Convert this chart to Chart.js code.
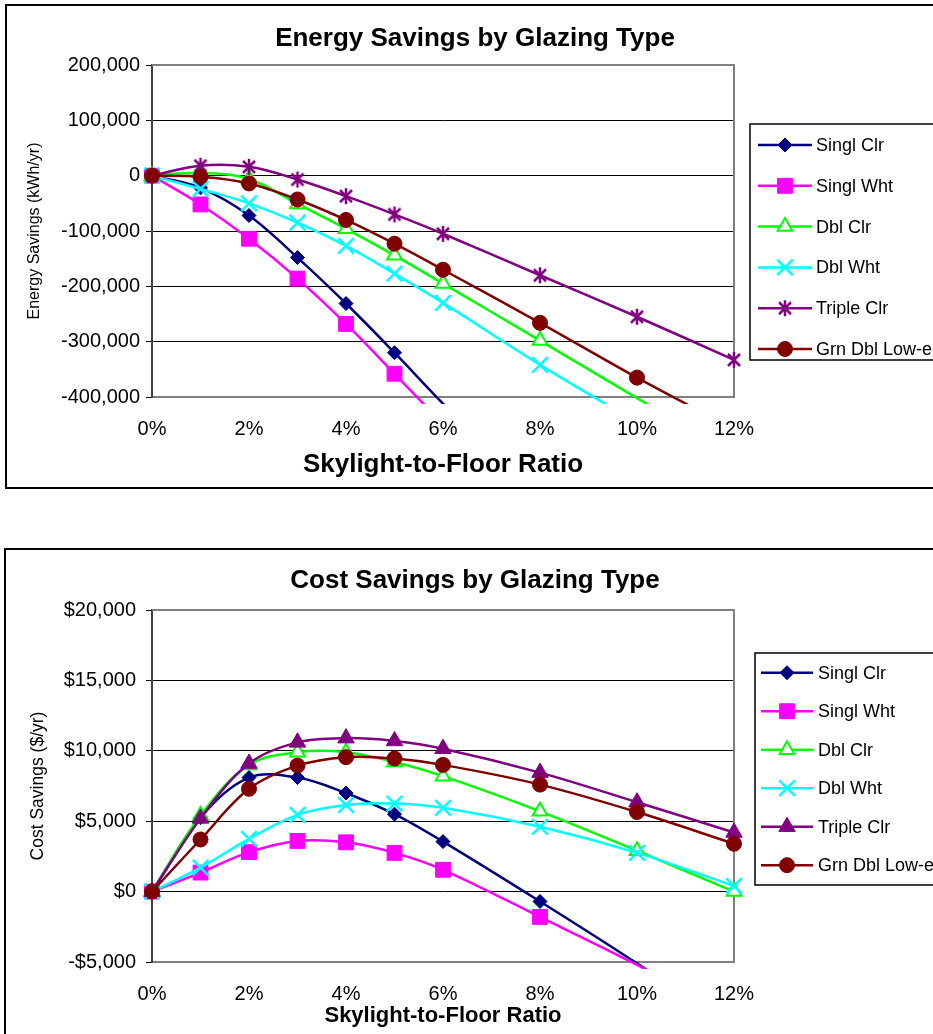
<!DOCTYPE html>
<html>
<head>
<meta charset="utf-8">
<script src="https://cdn.jsdelivr.net/npm/chart.js"></script>
<style>
  html, body { margin: 0; padding: 0; background: #fff; overflow: hidden; }
  .box { position: absolute; border: 2px solid #000; background: #fff; }
  #box1 { left: 5px; top: 4px; width: 1000px; height: 481px; }
  #box2 { left: 4px; top: 548px; width: 1000px; height: 520px; }
  canvas { display: block; }
</style>
</head>
<body>
<div class="box" id="box1"><canvas id="energyChart" width="936" height="481"></canvas></div>
<div class="box" id="box2"><canvas id="costChart" width="938" height="520"></canvas></div>
<script>
// skylight-to-floor ratio, %
const ratios = [0, 1, 2, 3, 4, 5, 6, 8, 10, 12];
const seriesNames = ['Singl Clr', 'Singl Wht', 'Dbl Clr', 'Dbl Wht', 'Triple Clr', 'Grn Dbl Low-e'];
const seriesColors = ['#000080', '#FF00FF', '#00FF00', '#00FFFF', '#800080', '#800000'];

// energy savings, kWh/yr
const energySinglClr = [0, -22000, -72000, -148000, -231000, -320000, -412000, -590000, -770000, -950000];
const energySinglWht = [0, -52000, -114000, -186000, -268000, -358000, -450000, -650000, -850000, -1050000];
const energyDblClr = [0, 5000, -6000, -51000, -96000, -144000, -195000, -298000, -402000, -505000];
const energyDblWht = [0, -24000, -50000, -85000, -127000, -177000, -230000, -342000, -447000, -560000];
const energyTripleClr = [0, 18000, 16000, -7000, -37000, -70000, -105000, -180000, -255000, -333000];
const energyGrnDbl = [0, -2000, -14000, -43000, -80000, -123000, -170000, -266000, -365000, -458000];

// cost savings, $/yr
const costSinglClr = [0, 5250, 8100, 8100, 7000, 5500, 3550, -700, -5100, -9800];
const costSinglWht = [0, 1350, 2800, 3600, 3500, 2750, 1550, -1800, -5200, -8800];
const costDblClr = [0, 5400, 9000, 9900, 9900, 9200, 8200, 5700, 2900, 0];
const costDblWht = [0, 1700, 3750, 5450, 6150, 6250, 5950, 4600, 2750, 400];
const costTripleClr = [0, 5200, 9100, 10600, 10900, 10700, 10150, 8450, 6350, 4200];
const costGrnDbl = [0, 3700, 7300, 8950, 9550, 9450, 9000, 7600, 5650, 3400];

const ratioTicks = [0, 2, 4, 6, 8, 10, 12];
const energyTicks = [-400000, -300000, -200000, -100000, 0, 100000, 200000];
const costTicks = [-5000, 0, 5000, 10000, 15000, 20000];

const FONT = "'Liberation Sans', Arial, sans-serif";
Chart.defaults.color = '#000';
Chart.defaults.font.family = FONT;

function makeAsterisk(color) {
  const c = document.createElement('canvas');
  c.width = 18; c.height = 18;
  const g = c.getContext('2d');
  g.strokeStyle = color;
  g.lineWidth = 2.5;
  g.beginPath();
  g.moveTo(9, 1); g.lineTo(9, 17);
  g.moveTo(3, 3); g.lineTo(15, 15);
  g.moveTo(15, 3); g.lineTo(3, 15);
  g.stroke();
  return c;
}

const energyMarkers = [
  { style: 'rectRot', r: 7, fill: seriesColors[0], stroke: seriesColors[0], bw: 1 },
  { style: 'rect', r: 10.5, fill: seriesColors[1], stroke: seriesColors[1], bw: 1 },
  { style: 'triangle', r: 8.5, fill: '#fff', stroke: seriesColors[2], bw: 2 },
  { style: 'crossRot', r: 11, fill: seriesColors[3], stroke: seriesColors[3], bw: 2.5 },
  { style: makeAsterisk(seriesColors[4]), r: 8, fill: seriesColors[4], stroke: seriesColors[4], bw: 2 },
  { style: 'circle', r: 7.5, fill: seriesColors[5], stroke: seriesColors[5], bw: 1 }
];
const costMarkers = energyMarkers.slice();
costMarkers[4] = { style: 'triangle', r: 9.5, fill: seriesColors[4], stroke: seriesColors[4], bw: 1 };

function drawMarker(ctx, m, x, y) {
  ctx.save();
  if (m.style instanceof HTMLCanvasElement) {
    ctx.drawImage(m.style, x - m.style.width / 2, y - m.style.height / 2);
    ctx.restore();
    return;
  }
  ctx.fillStyle = m.fill;
  ctx.strokeStyle = m.stroke;
  ctx.lineWidth = m.bw;
  const r = m.r;
  ctx.beginPath();
  if (m.style === 'rectRot') {
    ctx.moveTo(x, y - r); ctx.lineTo(x + r, y); ctx.lineTo(x, y + r); ctx.lineTo(x - r, y);
    ctx.closePath(); ctx.fill(); ctx.stroke();
  } else if (m.style === 'rect') {
    const s = r * Math.SQRT1_2;
    ctx.rect(x - s, y - s, 2 * s, 2 * s); ctx.fill(); ctx.stroke();
  } else if (m.style === 'triangle') {
    const dx = r * Math.sin(Math.PI / 3 * 2);
    ctx.moveTo(x, y - r); ctx.lineTo(x + dx, y + r / 2); ctx.lineTo(x - dx, y + r / 2);
    ctx.closePath(); ctx.fill(); ctx.stroke();
  } else if (m.style === 'crossRot') {
    const s = r * Math.SQRT1_2;
    ctx.moveTo(x - s, y - s); ctx.lineTo(x + s, y + s);
    ctx.moveTo(x + s, y - s); ctx.lineTo(x - s, y + s);
    ctx.stroke();
  } else {
    ctx.arc(x, y, r, 0, Math.PI * 2); ctx.fill(); ctx.stroke();
  }
  ctx.restore();
}

// grey plot-area border on top and right
const framePlugin = {
  id: 'frame',
  beforeDatasetsDraw(chart) {
    const { ctx, chartArea: a } = chart;
    ctx.save();
    ctx.strokeStyle = '#808080';
    ctx.lineWidth = 2;
    ctx.beginPath();
    ctx.moveTo(a.left, a.top); ctx.lineTo(a.right, a.top); ctx.lineTo(a.right, a.bottom);
    ctx.stroke();
    ctx.restore();
  }
};

// boxed legend with line + marker samples, like the Excel one
function makeLegend(box, markers) {
  return {
    id: 'boxLegend',
    afterDraw(chart) {
      const ctx = chart.ctx;
      ctx.save();
      ctx.strokeStyle = '#000';
      ctx.lineWidth = 1.5;
      ctx.strokeRect(box.left, box.top, 300, box.height);
      seriesNames.forEach((name, i) => {
        const y = box.firstRow + i * box.rowGap;
        ctx.strokeStyle = seriesColors[i];
        ctx.lineWidth = 2.5;
        ctx.beginPath();
        ctx.moveTo(box.lineX0, y); ctx.lineTo(box.lineX1, y);
        ctx.stroke();
        drawMarker(ctx, markers[i], (box.lineX0 + box.lineX1) / 2, y);
        ctx.fillStyle = '#000';
        ctx.font = '18px ' + FONT;
        ctx.textBaseline = 'middle';
        ctx.fillText(name, box.textX, y + 1);
      });
      ctx.restore();
    }
  };
}

function buildDatasets(values, markers, yMin, yMax) {
  return seriesNames.map((name, i) => ({
    label: name,
    data: ratios.map((r, k) => ({ x: r, y: values[i][k] })),
    xAxisID: 'x',
    yAxisID: 'y',
    borderColor: seriesColors[i],
    borderWidth: 2.5,
    tension: 0.35,
    pointStyle: markers[i].style,
    pointRadius: c => (c.raw && c.raw.y >= yMin && c.raw.y <= yMax) ? markers[i].r : 0,
    pointBackgroundColor: markers[i].fill,
    pointBorderColor: markers[i].stroke,
    pointBorderWidth: markers[i].bw,
    clip: { left: 12, top: 12, right: 14, bottom: 7 },
    order: -i
  }));
}

function makeChart(id, cfg) {
  const yMin = Math.min(...cfg.yTicks), yMax = Math.max(...cfg.yTicks);
  return new Chart(document.getElementById(id), {
    type: 'line',
    data: { datasets: buildDatasets(cfg.values, cfg.markers, yMin, yMax) },
    options: {
      responsive: false,
      animation: false,
      devicePixelRatio: 1,
      events: [],
      layout: { padding: 0 },
      elements: { line: { capBezierPoints: false } },
      plugins: {
        legend: { display: false },
        tooltip: { enabled: false },
        title: {
          display: true,
          text: cfg.title,
          color: '#000',
          font: { size: 26, weight: 'bold', family: FONT },
          padding: cfg.titlePad
        }
      },
      scales: {
        x: {
          type: 'linear',
          min: Math.min(...ratioTicks),
          max: Math.max(...ratioTicks),
          ticks: {
            stepSize: 2,
            padding: cfg.xTickPad,
            font: { size: 20, family: FONT },
            color: '#000',
            callback: v => v + '%'
          },
          grid: { display: false, drawTicks: false },
          border: { display: true, color: '#808080', width: 2 },
          title: {
            display: true,
            text: 'Skylight-to-Floor Ratio',
            color: '#000',
            font: { size: cfg.xTitleSize, weight: 'bold', family: FONT },
            padding: { top: 0, bottom: cfg.xTitlePadBottom }
          },
          afterFit: s => { s.height = cfg.xHeight; }
        },
        y: {
          min: yMin,
          max: yMax,
          ticks: {
            stepSize: cfg.yStep,
            padding: cfg.yTickPad,
            font: { size: 20, family: FONT },
            color: '#000',
            callback: cfg.yFormat
          },
          grid: { color: '#000', lineWidth: 1, tickLength: 6, tickColor: '#000' },
          border: { display: true, color: '#404040', width: 2 },
          title: {
            display: true,
            text: cfg.yTitle,
            color: '#000',
            font: { size: cfg.yTitleSize, family: FONT },
            padding: { top: cfg.yTitlePadTop, bottom: 0 }
          },
          afterFit: s => { s.width = cfg.yWidth; }
        },
        // empty right-hand axis that only reserves room for the legend box
        legendRoom: {
          type: 'linear',
          position: 'right',
          display: true,
          ticks: { display: false },
          grid: { display: false, drawTicks: false },
          border: { display: false },
          afterFit: s => { s.width = cfg.legendRoom; }
        }
      }
    },
    plugins: [framePlugin, makeLegend(cfg.legend, cfg.markers)]
  });
}

makeChart('energyChart', {
  title: 'Energy Savings by Glazing Type',
  values: [energySinglClr, energySinglWht, energyDblClr, energyDblWht, energyTripleClr, energyGrnDbl],
  markers: energyMarkers,
  yTicks: energyTicks,
  yStep: 100000,
  yFormat: v => v.toLocaleString('en-US'),
  yTitle: 'Energy Savings (kWh/yr)',
  yTitleSize: 16,
  yTitlePadTop: 18,
  yTickPad: 6,
  yWidth: 145,
  legendRoom: 209,
  titlePad: { top: 17, bottom: 10.8 },
  xHeight: 90,
  xTickPad: 20,
  xTitleSize: 26,
  xTitlePadBottom: 6.4,
  legend: { left: 743, top: 118, height: 236, firstRow: 139, rowGap: 40.8, lineX0: 751, lineX1: 805, textX: 809 }
});

makeChart('costChart', {
  title: 'Cost Savings by Glazing Type',
  values: [costSinglClr, costSinglWht, costDblClr, costDblWht, costTripleClr, costGrnDbl],
  markers: costMarkers,
  yTicks: costTicks,
  yStep: 5000,
  yFormat: v => (v < 0 ? '-$' : '$') + Math.abs(v).toLocaleString('en-US'),
  yTitle: 'Cost Savings ($/yr)',
  yTitleSize: 17.5,
  yTitlePadTop: 22,
  yTickPad: 10,
  yWidth: 146,
  legendRoom: 210,
  titlePad: { top: 15.4, bottom: 13.4 },
  xHeight: 108,
  xTickPad: 20,
  xTitleSize: 22,
  xTitlePadBottom: 40.8,
  legend: { left: 749, top: 103, height: 232, firstRow: 122.7, rowGap: 38.5, lineX0: 755, lineX1: 807, textX: 812 }
});
</script>
</body>
</html>
